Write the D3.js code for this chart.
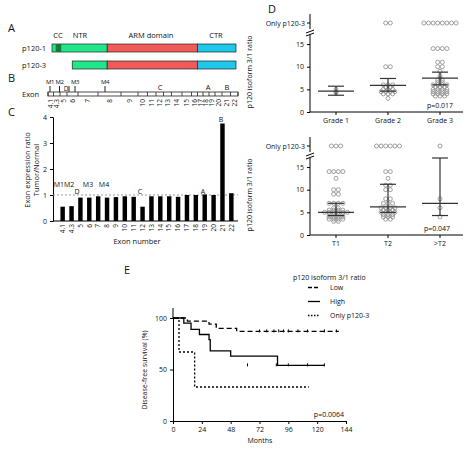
<!DOCTYPE html><html><head><meta charset="utf-8"><script src="https://d3js.org/d3.v7.min.js"></script>
<style>body{margin:0;background:#fff}text{font-family:"Open Sans","DejaVu Sans",sans-serif;fill:#111}</style></head><body><svg id="s" width="474" height="452"></svg>
<script>
const exons=["4.1","4.3","5","6","7","8","9","10","11","12","13","14","15","16","17","18","19","20","21","22"];
const exonLen=[5.5,6.5,7,11,20,23,17,9.5,8.5,7.5,8,10.5,9.5,6,5.5,6,6,7,8.5,7.5];
const ratio=[0.55,0.57,0.9,0.9,0.95,0.9,0.92,0.95,0.93,0.55,0.95,0.95,0.95,0.93,1.0,1.0,1.02,1.0,3.75,1.07];
const grades=["Grade 1","Grade 2","Grade 3"];
const gradeVals=[[4.5,5,4.2],[10,10,6,6,6,5.5,5.5,5,5,5,4.5,4.5,4.5,4.5,4,4,4,3],[14,14,14,14,11,11,10,10,9,8,7.5,7,7,6.5,6.5,6,6,6,6,5.5,5.5,5.5,5,5,5,5,4.5,4.5,4.5,4.5,4,4,4,4,3.5,3.5,3.5]];
const gradeOnly=[0,2,8];
const gradeStats=[[3.7,4.6,5.7],[4.6,5.9,7.4],[6,7.5,8.8]];
const stages=["T1","T2",">T2"];
const stageVals=[[14,14,14,14,12.5,10,10,9,9,7,7,7,7,6,6,5.5,5.5,5.5,5.5,5,5,5,5,5,5,4.5,4.5,4.5,4.5,4,4,4,4,3.5,3.5,3.5,3.5,3,3],[14,14,12.5,11,11,10,10,8,8,7,7,7,6,6,6,6,5.5,5.5,5.5,5,5,5,5,4.5,4.5,4.5,4,4,4,3.5,3.5],[8,6,4]];
const stageOnly=[3,6,1];
const stageStats=[[4.3,5,7],[5,6.2,11.2],[4.3,7,17]];
const kmLow=[[0,100],[12,97],[30,94],[36,90],[53,87],[138,87]];
const kmHigh=[[0,100],[9,95],[15,89],[22,84],[30,79],[31,68],[48,63],[87,54],[126,54]];
const kmOnly=[[0,100],[5,67],[18,33],[113,33]];
const kmLowCens=[72,78,84,88,92,96,104,112,126,136];
const kmHighCens=[62,86,96,112,126];

const svg=d3.select("#s");
const T=(x,y,t,o={})=>{const e=svg.append("text").attr("x",x).attr("y",y).text(t).attr("font-size",o.fs||7.5).attr("text-anchor",o.a||"start");if(o.r)e.attr("transform",`rotate(${o.r},${x},${y})`);return e;};
// A
T(8,32,"A",{fs:11});
const aX=d3.scaleLinear().domain([0,100]).range([52,236]);
const doms=[[0,30,"#22e68a"],[30,79,"#f25a5a"],[79,100,"#1ec8ea"]];
[[44,0],[61,11]].forEach(([y,st])=>{doms.forEach(d=>svg.append("rect").attr("x",aX(Math.max(d[0],st))).attr("y",y).attr("width",aX(d[1])-aX(Math.max(d[0],st))).attr("height",8).attr("fill",d[2]).attr("stroke","#222").attr("stroke-width",0.7));});
svg.append("rect").attr("x",aX(2)).attr("y",44).attr("width",aX(5)-aX(2)).attr("height",8).attr("fill","#137a3c");
T(22,51,"p120-1");T(22,68,"p120-3");
T(58,38,"CC",{a:"middle"});T(80,38,"NTR",{a:"middle"});T(151,38,"ARM domain",{a:"middle"});T(216,38,"CTR",{a:"middle"});
// B
T(8,82,"B",{fs:11});
const cum=[0];exonLen.forEach(l=>cum.push(cum[cum.length-1]+l));
const bX=d3.scaleLinear().domain([0,cum[cum.length-1]]).range([48,238]);
svg.append("rect").attr("x",48).attr("y",92).attr("width",190).attr("height",4).attr("fill","#fff").attr("stroke","#222").attr("stroke-width",0.8);
cum.forEach(c=>svg.append("line").attr("x1",bX(c)).attr("x2",bX(c)).attr("y1",92).attr("y2",96).attr("stroke","#222").attr("stroke-width",0.8));
exons.forEach((e,i)=>T(bX((cum[i]+cum[i+1])/2)+2.3,99,e,{r:-90,a:"end",fs:6.5}));
T(22,97,"Exon");
[["M1",50],["M2",59.5],["M3",75],["M4",105]].forEach(([t,x])=>{T(x,84,t,{a:"middle",fs:6}).attr("letter-spacing",-0.3);svg.append("line").attr("x1",x).attr("x2",x).attr("y1",86).attr("y2",92).attr("stroke","#222");});
T(66,91,"D",{a:"middle",fs:6.5});svg.append("line").attr("x1",69).attr("x2",69).attr("y1",86).attr("y2",92).attr("stroke","#222");
T(160,90,"C",{a:"middle"});T(208,90,"A",{a:"middle"});T(227,90,"B",{a:"middle"});
// C
T(8,116,"C",{fs:11});
const cX=d3.scaleBand().domain(exons).range([56,238]).padding(0.5);
const cY=d3.scaleLinear().domain([0,4]).range([221,117]);
svg.append("g").attr("transform","translate(53,0)").call(d3.axisLeft(cY).ticks(4).tickSize(3)).call(g=>g.selectAll("text").attr("font-size",7));
svg.append("line").attr("x1",53).attr("x2",238).attr("y1",cY(0)).attr("y2",cY(0)).attr("stroke","#000");
svg.append("line").attr("x1",53).attr("x2",238).attr("y1",cY(1)).attr("y2",cY(1)).attr("stroke","#999").attr("stroke-dasharray","2,2");
svg.selectAll(".cb").data(ratio).join("rect").attr("x",(d,i)=>cX(exons[i])).attr("width",cX.bandwidth()).attr("y",d=>cY(d)).attr("height",d=>cY(0)-cY(d)).attr("fill","#000");
exons.forEach(e=>T(cX(e)+cX.bandwidth()/2+2.3,224,e,{r:-90,a:"end",fs:6.5}));
T(137,244,"Exon number",{a:"middle"});
T(30,170,"Exon expression ratio",{a:"middle",r:-90});T(39,170,"Tumor/Normal",{a:"middle",r:-90});
[["M1M2",64,187],["D",77,194],["M3",88,187],["M4",104,187],["C",140,194],["A",203,194],["B",221,122]].forEach(([t,x,y])=>T(x,y,t,{a:"middle",fs:7}));
// D
T(268,13,"D",{fs:11});
function scat(cats,vals,only,stats,y0,pl,pv){
  const xa=d3.scalePoint().domain(cats).range([336,440]);
  const y=d3.scaleLinear().domain([0,17]).range([y0,y0-77]);
  const yOnly=y0-89;
  svg.append("g").attr("transform","translate(310,0)").call(d3.axisLeft(y).tickValues([0,5,10,15]).tickSize(3)).call(g=>{g.selectAll("text").attr("font-size",7);g.select(".domain").remove();});
  svg.append("line").attr("x1",310).attr("x2",310).attr("y1",y0).attr("y2",y(17)).attr("stroke","#000");
  svg.append("line").attr("x1",310).attr("x2",310).attr("y1",y(17)-6).attr("y2",yOnly-9).attr("stroke","#000");
  svg.append("line").attr("x1",307).attr("x2",310).attr("y1",yOnly).attr("y2",yOnly).attr("stroke","#000");
  [0,3].forEach(o=>svg.append("line").attr("x1",306).attr("x2",314).attr("y1",y(17)-1-o+2).attr("y2",y(17)-4-o+2).attr("stroke","#000"));
  T(305,yOnly+2.5,"Only p120-3",{a:"end",fs:7});
  svg.append("line").attr("x1",310).attr("x2",463).attr("y1",y0).attr("y2",y0).attr("stroke","#000");
  cats.forEach((c,i)=>{
    svg.append("line").attr("x1",xa(c)).attr("x2",xa(c)).attr("y1",y0).attr("y2",y0+3).attr("stroke","#000");
    T(xa(c),y0+11,c,{a:"middle",fs:7});
    const cnt={};
    vals[i].forEach(v=>{cnt[v]=(cnt[v]||0)+1;});
    const seen={};
    vals[i].forEach(v=>{const n=cnt[v];const j=(seen[v]=(seen[v]||0)+1)-1;const dx=(j-(n-1)/2)*4.6;
      svg.append("circle").attr("cx",xa(c)+dx).attr("cy",y(v)).attr("r",2).attr("fill","none").attr("stroke","#888").attr("stroke-width",0.8);});
    for(let j=0;j<only[i];j++)svg.append("circle").attr("cx",xa(c)+(j-(only[i]-1)/2)*4.6).attr("cy",yOnly).attr("r",2).attr("fill","none").attr("stroke","#888").attr("stroke-width",0.8);
    const [lo,md,hi]=stats[i];
    svg.append("line").attr("x1",xa(c)).attr("x2",xa(c)).attr("y1",y(lo)).attr("y2",y(hi)).attr("stroke","#333").attr("stroke-width",1.2);
    [[lo,8],[hi,8],[md,18]].forEach(([v,w])=>svg.append("line").attr("x1",xa(c)-w).attr("x2",xa(c)+w).attr("y1",y(v)).attr("y2",y(v)).attr("stroke","#333").attr("stroke-width",1.2));
  });
  T(pl,y0-4,pv,{a:"middle",fs:7});
  T(252,y0-40,"p120 isoform 3/1 ratio",{a:"middle",r:-90,fs:7});
}
scat(grades,gradeVals,gradeOnly,gradeStats,112,440,"p=0.017");
scat(stages,stageVals,stageOnly,stageStats,235,437,"p=0.047");
// E
T(124,274,"E",{fs:11});
const kx=d3.scaleLinear().domain([0,144]).range([173,346]);
const ky=d3.scaleLinear().domain([0,100]).range([421,318]);
svg.append("g").attr("transform","translate(0,421)").call(d3.axisBottom(kx).tickValues([0,24,48,72,96,120,144]).tickSize(3)).call(g=>g.selectAll("text").attr("font-size",7));
svg.append("g").attr("transform","translate(173,0)").call(d3.axisLeft(ky).tickValues([0,50,100]).tickSize(3)).call(g=>g.selectAll("text").attr("font-size",7));
svg.append("line").attr("x1",173).attr("x2",173).attr("y1",318).attr("y2",308).attr("stroke","#000");
T(260,443,"Months",{a:"middle",fs:7});
T(147,370,"Disease-free survival (%)",{a:"middle",r:-90,fs:7});
T(344,417,"p=0.0064",{a:"end",fs:7});
const line=d3.line().x(d=>kx(d[0])).y(d=>ky(d[1])).curve(d3.curveStepAfter);
const kms=[[kmLow,"5,3",1.3,kmLowCens,87],[kmHigh,null,1.3,kmHighCens,54],[kmOnly,"2,2",1.3,[],33]];
kms.forEach(([d,da,w,c,lv])=>{const p=svg.append("path").attr("d",line(d)).attr("fill","none").attr("stroke","#000").attr("stroke-width",w);if(da)p.attr("stroke-dasharray",da);
 c.forEach(m=>svg.append("line").attr("x1",kx(m)).attr("x2",kx(m)).attr("y1",ky(lv)-2).attr("y2",ky(lv)+1).attr("stroke","#000"));});
T(293,280,"p120 isoform 3/1 ratio",{fs:7});
[["Low","4,2",290],["High",null,304],["Only p120-3","1.5,1.5",318]].forEach(([t,da,y])=>{const l=svg.append("line").attr("x1",308).attr("x2",320).attr("y1",y-2.5).attr("y2",y-2.5).attr("stroke","#000").attr("stroke-width",1.3);if(da)l.attr("stroke-dasharray",da);T(330,y,t,{fs:7});});
</script></body></html>
